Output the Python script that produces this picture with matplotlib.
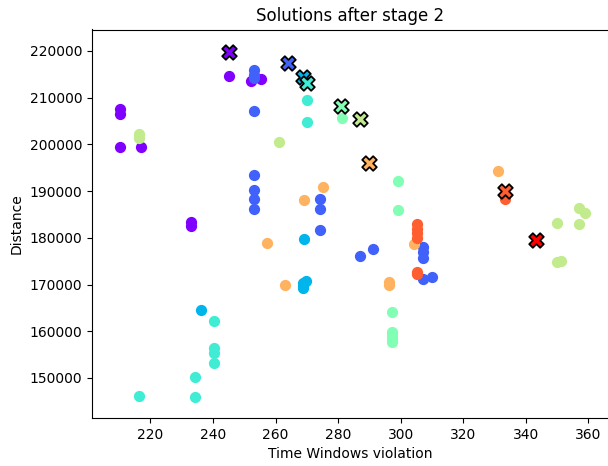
import matplotlib
matplotlib.use("Agg")
import matplotlib.pyplot as plt
import numpy as np

# Solutions per cluster: (time windows violation, distance)
tw_0 = [210.2, 210.2, 210.2, 217.1, 245.1, 252.1, 255.3, 233.0, 233.0]
dist_0 = [207500, 206500, 199400, 199400, 214650, 213650, 214050, 183400, 182500]

tw_1 = [253.1, 253.1, 253.1, 253.1, 253.1, 253.1, 253.1, 253.1,
        274.2, 274.2, 274.2, 287.1, 291.2, 307.1, 307.1, 307.1, 307.1, 310.1]
dist_1 = [215900, 214900, 214200, 207200, 193450, 190250, 188300, 186200,
          188250, 186200, 181600, 176200, 177550, 178000, 177050, 175650, 171150, 171550]

tw_2 = [236.0, 269.1, 269.6, 268.9, 268.8, 268.8]
dist_2 = [164550, 179700, 170800, 170300, 169700, 169200]

tw_3 = [270.2, 270.2, 240.3, 240.3, 240.3, 240.3, 234.2, 234.2, 216.3]
dist_3 = [209500, 204850, 162250, 156450, 155300, 153150, 150150, 146000, 146150]

tw_4 = [281.1, 299.1, 299.1, 297.1, 297.1, 297.1, 297.1, 297.1]
dist_4 = [205700, 192250, 185950, 164200, 159900, 159200, 158500, 157800]

tw_5 = [216.3, 216.3, 261.1, 357.1, 359.0, 350.1, 357.1, 350.1, 351.2]
dist_5 = [202250, 201300, 200600, 186450, 185300, 183250, 182900, 174850, 175100]

tw_6 = [275.1, 269.1, 257.1, 263.0, 296.2, 296.2, 304.1, 331.1]
dist_6 = [190900, 188050, 179000, 170000, 170600, 169900, 178600, 194250]

tw_7 = [333.2, 305.2, 305.2, 305.2, 305.2, 305.2, 305.2]
dist_7 = [188250, 182950, 181900, 181000, 180050, 172700, 172250]

tw_8 = []
dist_8 = []

tw_groups = [tw_0, tw_1, tw_2, tw_3, tw_4, tw_5, tw_6, tw_7, tw_8]
dist_groups = [dist_0, dist_1, dist_2, dist_3, dist_4, dist_5, dist_6, dist_7, dist_8]

# Best solution of each cluster
best_tw = [245.1, 264.1, 268.9, 270.2, 280.9, 287.0, 290.0, 333.2, 343.2]
best_dist = [219800, 217350, 214500, 213100, 208250, 205400, 196100, 190050, 179550]

colors = plt.cm.rainbow(np.linspace(0, 1, len(tw_groups)))

fig = plt.figure(figsize=(6.08, 4.66), dpi=100)
ax = fig.add_axes([92 / 608, 48 / 466, 517 / 608, 388.5 / 466])

for tw, dist, c in zip(tw_groups, dist_groups, colors):
    if tw:
        ax.scatter(tw, dist, s=50, color=c, zorder=2)

for x, y, c in zip(best_tw, best_dist, colors):
    ax.scatter(x, y, s=110, marker="X", color=c, edgecolors="black",
               linewidths=1.3, zorder=3)

ax.set_xlim(201.3, 366.6)
ax.set_ylim(141430, 224600)
ax.set_xticks(np.arange(220, 361, 20))
ax.set_yticks(np.arange(150000, 220001, 10000))
ax.set_title("Solutions after stage 2", fontsize=12)
ax.set_xlabel("Time Windows violation")
ax.set_ylabel("Distance")

fig.savefig("out.png", dpi=100)
